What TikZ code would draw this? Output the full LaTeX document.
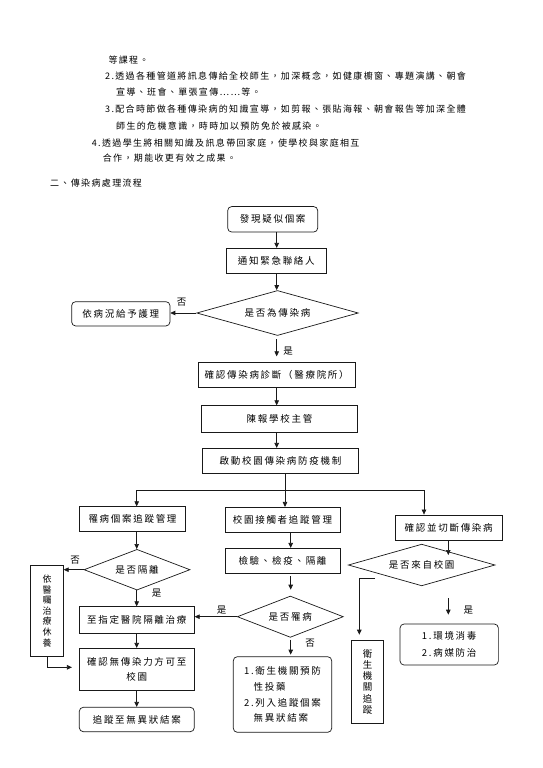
\documentclass[tikz,border=0pt]{standalone}
\usepackage{fontspec}
\setmainfont{Liberation Serif}
\newfontfamily\cjkbody[LetterSpace=15]{Noto Sans CJK TC}
\newfontfamily\cjkflow[LetterSpace=18]{Noto Sans CJK TC}
\newcommand\myflow{\cjkflow\fontsize{9.5}{14}\selectfont}
\newcommand\mybody{\cjkbody\fontsize{9}{12}\selectfont}
\usetikzlibrary{arrows.meta,shapes.geometric,calc}
\begin{document}
\begin{tikzpicture}[x=1pt,y=-1pt,
  box/.style={draw=black!90, line width=0.7pt, inner sep=0pt, font=\myflow, align=center, text=black},
  rbox/.style={box, rounded corners=4pt},
  dia/.style={diamond, draw=black!90, line width=0.7pt, inner sep=0pt, aspect=3, font=\myflow, text=black},
  arr/.style={-{Triangle[length=5pt,width=4.5pt]}, line width=0.7pt, draw=black!90},
  ln/.style={line width=0.7pt, draw=black!90},
  lbl/.style={font=\myflow, inner sep=0pt, text=black},
  txt/.style={anchor=west, inner sep=0pt, font=\mybody, text=black}]
\fill[white] (0,0) rectangle (543,768);
\useasboundingbox (0,0) rectangle (543,768);

% ---- top text ----
\node[txt] (t1) at (108.3,60) {等課程。};
\node[txt] (t2) at (105,76) {2.透過各種管道將訊息傳給全校師生，加深概念，如健康櫥窗、專題演講、朝會};
\node[txt] (t3) at (116,91.7) {宣導、班會、單張宣傳……等。};
\node[txt] (t4) at (105,109.3) {3.配合時節做各種傳染病的知識宣導，如剪報、張貼海報、朝會報告等加深全體};
\node[txt] (t5) at (116,126) {師生的危機意識，時時加以預防免於被感染。};
\node[txt] (t6) at (91.7,142.7) {4.透過學生將相關知識及訊息帶回家庭，使學校與家庭相互};
\node[txt] (t7) at (102.7,158.3) {合作，期能收更有效之成果。};
\node[txt] (t8) at (50,183.3) {二、傳染病處理流程};

% ---- main column ----
\node[rbox, minimum width=90pt, minimum height=25.5pt] (n1) at (272.7,219.3) {發現疑似個案};
\node[box, minimum width=99.3pt, minimum height=25.4pt] (n2) at (276.3,261) {通知緊急聯絡人};
\node[dia, minimum width=161.6pt, minimum height=45pt] (d1) at (277.5,313) {是否為傳染病};
\node[rbox, minimum width=98.3pt, minimum height=24.3pt] (n3) at (120.8,313.8) {依病況給予護理};
\node[box, minimum width=156.7pt, minimum height=25.4pt] (n4) at (276.7,375) {確認傳染病診斷（醫療院所）};
\node[box, minimum width=155.6pt, minimum height=26.6pt] (n5) at (279.5,419) {陳報學校主管};
\node[box, minimum width=155.6pt, minimum height=25.4pt] (n6) at (280.5,461) {啟動校園傳染病防疫機制};

% ---- left column ----
\node[box, minimum width=106.4pt, minimum height=25pt] (m1) at (132.5,519.2) {罹病個案追蹤管理};
\node[dia, minimum width=106pt, minimum height=40.7pt] (md1) at (137,569.7) {是否隔離};
\node[box, minimum width=32.6pt, minimum height=91.7pt, font=\cjkflow\fontsize{9}{10.6}\selectfont] (mv) at (47,610.8) {依\\醫\\囑\\治\\療\\休\\養};
\node[box, minimum width=115pt, minimum height=26.6pt] (m2) at (136.8,620) {至指定醫院隔離治療};
\node[box, minimum width=115pt, minimum height=42.4pt, font=\cjkflow\fontsize{9.5}{14.3}\selectfont] (m3) at (136.8,669.5) {確認無傳染力方可至\\校園};
\node[rbox, minimum width=115pt, minimum height=24.4pt] (m4) at (136.8,719.5) {追蹤至無異狀結案};

% ---- middle column ----
\node[box, minimum width=115pt, minimum height=25pt] (c1) at (282.5,519.8) {校園接觸者追蹤管理};
\node[box, minimum width=115pt, minimum height=25pt] (c2) at (282.5,560.8) {檢驗、檢疫、隔離};
\node[dia, minimum width=106pt, minimum height=41.3pt] (cd) at (290.3,616.7) {是否罹病};
\node[rbox, minimum width=98.4pt, minimum height=75.6pt, align=left, font=\cjkflow\fontsize{9.5}{15.8}\selectfont] (c3) at (282.5,694.5) {1.衛生機關預防\\\phantom{1.}性投藥\\2.列入追蹤個案\\\phantom{2.}無異狀結案};

% ---- right column ----
\node[box, minimum width=107.3pt, minimum height=25.7pt] (r1) at (448.7,527.8) {確認並切斷傳染病};
\node[dia, minimum width=146.7pt, minimum height=41.7pt] (rd) at (421.7,565) {是否來自校園};
\node[box, minimum width=31.6pt, minimum height=83.3pt, font=\cjkflow\fontsize{9.5}{11.3}\selectfont] (rv) at (367.5,681.7) {衛\\生\\機\\關\\追\\蹤};
\node[rbox, minimum width=98.3pt, minimum height=41pt, align=left, font=\cjkflow\fontsize{9.5}{16.6}\selectfont] (r2) at (449.2,644.5) {1.環境消毒\\2.病媒防治};

% ---- labels ----
\node[lbl] (l1) at (181.7,301.7) {否};
\node[lbl] (l2) at (288,351) {是};
\node[lbl] (l3) at (75,560) {否};
\node[lbl] (l4) at (156.7,593.3) {是};
\node[lbl] (l5) at (221.7,610) {是};
\node[lbl] (l6) at (310,643.3) {否};
\node[lbl] (l7) at (468.3,610) {是};

% ---- connectors: main ----
\coordinate (xa) at (276.7,0);
\draw[arr] (xa |- n1.south) -- (xa |- n2.north);
\draw[arr] (xa |- n2.south) -- (xa |- d1.north);
\draw[arr] (d1.west) -- (d1.west -| n3.east);
\draw[arr, shorten <=3.3pt, shorten >=5.6pt] (xa |- d1.south) -- (xa |- n4.north);
\draw[arr] (xa |- n4.south) -- (xa |- n5.north);
\draw[arr] (xa |- n5.south) -- (xa |- n6.north);

\coordinate (bus) at (285,490);
\coordinate (bl) at (136.7,490);
\coordinate (br) at (424,490);
\draw[ln] (bus |- n6.south) -- (bus);
\draw[ln] (bl) -- (br);
\draw[arr] (bl) -- (bl |- m1.north);
\draw[arr] (bus) -- (bus |- c1.north);
\draw[arr] (br) -- (br |- r1.north);

% ---- connectors: left ----
\draw[arr] (bl |- m1.south) -- (bl |- md1.north);
\draw[arr] (bl |- md1.south) -- (bl |- m2.north);
\draw[arr] (bl |- m2.south) -- (bl |- m3.north);
\draw[arr] (bl |- m3.south) -- (bl |- m4.north);
\draw[arr] (md1.west) -- (md1.west -| mv.east);
\draw[arr, shorten >=7pt] (mv.south) |- ($(m3.west)+(0,-2.2)$);

% ---- connectors: middle ----
\coordinate (cm) at (290.7,0);
\draw[arr] (cm |- c1.south) -- (cm |- c2.north);
\draw[arr, shorten <=2.7pt, shorten >=6pt] (cm |- c2.south) -- (cm |- cd.north);
\draw[arr] (cd.west) -- (cd.west -| m2.east);
\draw[arr, shorten <=2pt, shorten >=1.7pt] (cm |- cd.south) -- (cm |- c3.north);

% ---- connectors: right ----
\coordinate (cr) at (448.3,0);
\coordinate (rdin) at (448.3,555);
\draw[arr] (cr |- r1.south) -- (rdin);
\coordinate (rs) at (375,578);
\coordinate (rk) at (359.3,578);
\draw[arr, shorten >=5pt] (rs) -- (rk) -- (rk |- rv.north);
\coordinate (ry) at (448.3,598.3);
\draw[arr, shorten >=9pt] (ry) -- (ry |- r2.north);
\end{tikzpicture}
\end{document}
